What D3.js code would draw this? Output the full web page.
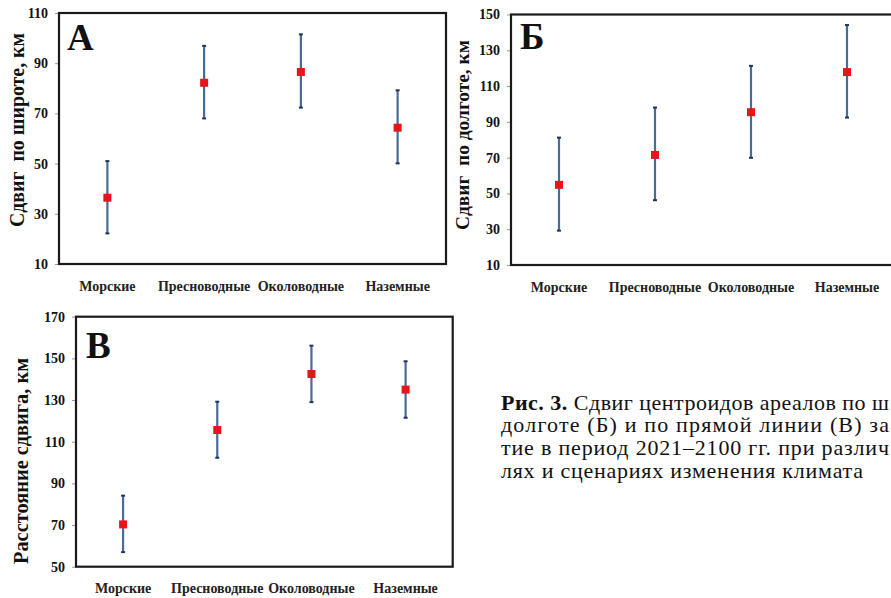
<!DOCTYPE html>
<html><head><meta charset="utf-8">
<script src="https://cdn.jsdelivr.net/npm/d3@7"></script>
<style>
html,body{margin:0;padding:0;background:#fff;overflow:hidden}
svg{display:block}
</style></head>
<body>
<svg id="chart" width="891" height="598"></svg>
<script>
const categories = ["Морские", "Пресноводные", "Околоводные", "Наземные"];

// Panel А — shift by latitude
const latMean  = [36.4, 82.2, 86.5, 64.3];
const latUpper = [51.0, 96.9, 101.5, 79.2];
const latLower = [22.2, 68.0, 72.3, 50.1];
const latTicks = [10, 30, 50, 70, 90, 110];

// Panel Б — shift by longitude
const lonMean  = [54.8, 71.5, 95.4, 117.8];
const lonUpper = [81.2, 98.0, 121.3, 144.1];
const lonLower = [29.2, 46.2, 69.9, 92.4];
const lonTicks = [10, 30, 50, 70, 90, 110, 130, 150];

// Panel В — straight-line distance
const distMean  = [70.3, 115.6, 142.5, 135.0];
const distUpper = [84.1, 129.2, 156.1, 148.6];
const distLower = [57.0, 102.3, 129.0, 121.5];
const distTicks = [50, 70, 90, 110, 130, 150, 170];

const panelLetters = ["А", "Б", "В"];
const yTitles = ["Сдвиг  по широте, км", "Сдвиг  по долготе, км", "Расстояние сдвига, км"];

const captionBold = "Рис. 3.";
const captionLines = [
  " Сдвиг центроидов ареалов по ш",
  "долготе (Б) и по прямой линии (В) за",
  "тие в период 2021–2100 гг. при различ",
  "лях и сценариях изменения климата"
];

const svg = d3.select("#chart");
const serif = "'Liberation Serif', 'Times New Roman', serif";

function drawPanel(p) {
  const g = svg.append("g");
  const x = d3.scaleBand().domain(categories).range([p.left, p.right]).padding(0);
  const y = d3.scaleLinear().domain(d3.extent(p.ticks)).range([p.bottom, p.top]);

  const ax = g.append("g").attr("transform", `translate(${p.left},0)`)
    .call(d3.axisLeft(y).tickValues(p.ticks).tickSize(4).tickPadding(7).tickFormat(d3.format("d")));
  ax.select(".domain").remove();
  ax.selectAll(".tick line").attr("stroke", "#999").attr("stroke-width", 1);
  ax.selectAll(".tick text")
    .attr("font-family", serif).attr("font-weight", "bold").attr("font-size", 14)
    .attr("fill", "#111");

  g.append("rect")
    .attr("x", p.left).attr("y", p.top)
    .attr("width", p.right - p.left).attr("height", p.bottom - p.top)
    .attr("fill", "none").attr("stroke", "#1a1a1a").attr("stroke-width", 2.2);

  g.selectAll(".xl").data(categories).join("text")
    .attr("x", d => x(d) + x.bandwidth() / 2)
    .attr("y", p.xLabelY)
    .attr("text-anchor", "middle").attr("dominant-baseline", "central")
    .attr("font-family", serif).attr("font-weight", "bold").attr("font-size", 14)
    .attr("fill", "#222")
    .text(d => d);

  g.append("text")
    .attr("transform", `translate(${p.titleX},${p.titleY}) rotate(-90)`)
    .attr("text-anchor", "middle")
    .attr("font-family", serif).attr("font-weight", "bold").attr("font-size", p.titleSize)
    .attr("fill", "#111").attr("xml:space", "preserve")
    .attr("textLength", p.titleLen).attr("lengthAdjust", "spacingAndGlyphs")
    .text(p.title);

  g.append("text")
    .attr("x", p.letterX).attr("y", p.letterY)
    .attr("font-family", serif).attr("font-weight", "bold").attr("font-size", 37)
    .attr("fill", "#111")
    .text(p.letter);

  const data = categories.map((c, i) => ({c, m: p.mean[i], lo: p.lower[i], hi: p.upper[i]}));
  const cx = d => x(d.c) + x.bandwidth() / 2;

  g.selectAll(".eb").data(data).join("line")
    .attr("x1", cx).attr("x2", cx)
    .attr("y1", d => y(d.lo)).attr("y2", d => y(d.hi))
    .attr("stroke", "#4a6b96").attr("stroke-width", 2.2);
  ["lo", "hi"].forEach(k => {
    g.selectAll(".cap" + k).data(data).join("line")
      .attr("x1", d => cx(d) - 2).attr("x2", d => cx(d) + 2)
      .attr("y1", d => y(d[k])).attr("y2", d => y(d[k]))
      .attr("stroke", "#1f3558").attr("stroke-width", 2);
  });

  const s = 8;
  g.selectAll(".mk").data(data).join("rect")
    .attr("x", d => cx(d) - s / 2).attr("y", d => y(d.m) - s / 2)
    .attr("width", s).attr("height", s)
    .attr("fill", "#e8141c");
}

drawPanel({left: 59, right: 446, top: 13, bottom: 264, ticks: latTicks,
  mean: latMean, upper: latUpper, lower: latLower, xLabelY: 286,
  title: yTitles[0], titleX: 24, titleY: 130, titleSize: 20, titleLen: 194,
  letter: panelLetters[0], letterX: 67, letterY: 50});
drawPanel({left: 511, right: 895, top: 14.5, bottom: 265, ticks: lonTicks,
  mean: lonMean, upper: lonUpper, lower: lonLower, xLabelY: 287,
  title: yTitles[1], titleX: 469, titleY: 135, titleSize: 18, titleLen: 190,
  letter: panelLetters[1], letterX: 520, letterY: 49});
drawPanel({left: 76, right: 452.7, top: 316.7, bottom: 566.7, ticks: distTicks,
  mean: distMean, upper: distUpper, lower: distLower, xLabelY: 588,
  title: yTitles[2], titleX: 28, titleY: 461, titleSize: 20, titleLen: 206,
  letter: panelLetters[2], letterX: 86, letterY: 358});

// caption
const cap = svg.append("g").attr("font-family", serif).attr("font-size", 22).attr("fill", "#111");
const capLens = [388, 388, 388, 362];
const capY = [409.5, 432, 455, 477.5];
captionLines.forEach((l, i) => {
  const t = cap.append("text").attr("x", 501).attr("y", capY[i]).attr("xml:space", "preserve");
  if (i === 0) t.append("tspan").attr("font-weight", "bold").text(captionBold);
  t.append("tspan").text(l);
  t.attr("textLength", capLens[i]).attr("lengthAdjust", "spacing");
});
</script>
</body></html>
